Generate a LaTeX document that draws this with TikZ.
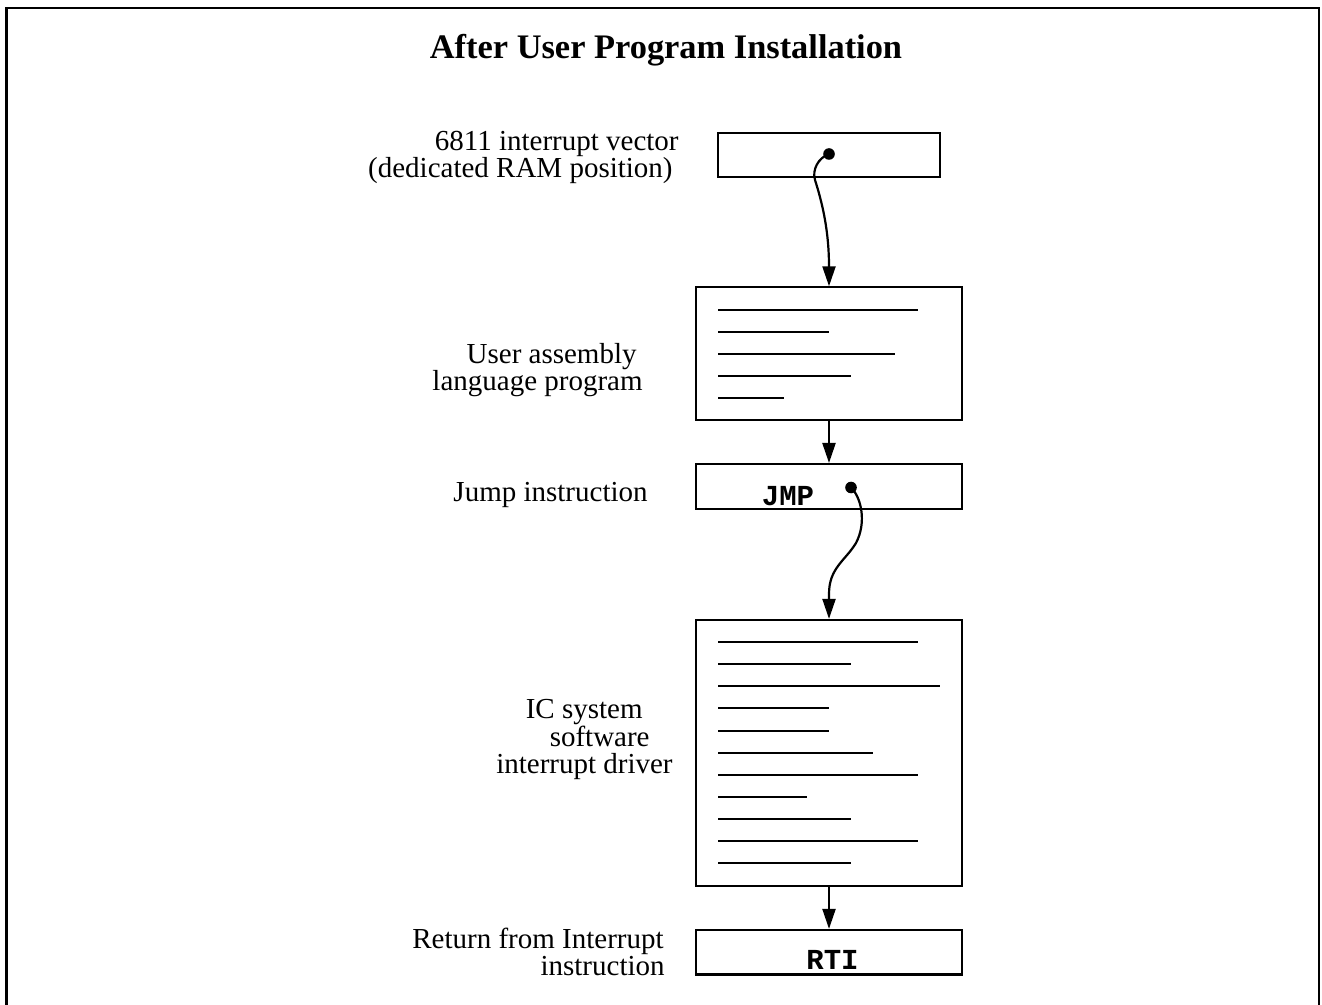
\documentclass[tikz,border=0pt]{standalone}
\usepackage{fontspec}
\setmainfont{Liberation Serif}
\setmonofont{Liberation Mono}
\usetikzlibrary{arrows.meta}
\begin{document}
\begin{tikzpicture}[x=0.5pt,y=-0.5pt,
  box/.style={draw,line width=1.1pt,inner sep=0pt,minimum width=133pt},
  lbl/.style={anchor=base east,inner sep=0pt,font=\fontsize{14.5pt}{17pt}\selectfont},
  code/.style={anchor=base,inner sep=0pt,font=\fontsize{14.5pt}{17pt}\selectfont\ttfamily\bfseries},
  arr/.style={line width=1.1pt,-{Triangle[length=10pt,width=6.5pt]}},
  txtline/.style={line width=1pt},
  dotpt/.style={fill=black}]
\useasboundingbox (0,0) rectangle (1322,1005);
% frame (open at bottom)
\draw[line width=1.35pt] (6.5,1010) -- (6.5,8) -- (1319,8) -- (1319,1010);
% title
\node[anchor=base,inner sep=0pt,font=\fontsize{17.2pt}{20pt}\selectfont\bfseries] (title) at (666,59) {After User Program Installation};
% boxes
\node[box,minimum width=111pt,minimum height=22pt] (b1) at (829,154.7) {};
\node[box,minimum height=66.3pt] (b2) at (829,353.7) {};
\node[box,minimum height=22.6pt] (b3) at (829,486.7) {};
\node[box,minimum height=132.8pt] (b4) at (829,752.8) {};
\node[box,minimum height=22.2pt] (b5) at (829,952.2) {};
% labels
\node[lbl] (l1a) at (679,151) {6811 interrupt vector};
\node[lbl] (l1b) at (673,177.5) {(dedicated RAM position)};
\node[lbl] (l2a) at (637,364) {User assembly};
\node[lbl] (l2b) at (643,391) {language program};
\node[lbl] (l3) at (648,501) {Jump instruction};
\node[lbl] (l4a) at (643,718) {IC system};
\node[lbl] (l4b) at (650,746) {software};
\node[lbl] (l4c) at (673,773) {interrupt driver};
\node[lbl] (l5a) at (664,948.5) {Return from Interrupt};
\node[lbl] (l5b) at (665,975.5) {instruction};
% code text
\node[code] (jmp) at (788,505) {JMP};
\node[code] (rti) at (832.5,969) {RTI};
% program lines in b2
\foreach \y/\e in {310/917.7,332/829,354/895.3,376/851,398/784.3}
  \draw[txtline] (718.3,\y) -- (\e,\y);
% program lines in b4
\foreach \y/\e in {642/917.7,664/851,686/939.7,708/829,730.5/829,752.5/873.3,774.5/917.7,797/807,819/851,841/917.7,863/851}
  \draw[txtline] (718.3,\y) -- (\e,\y);
% dots
\coordinate (d1) at (829,154);
\coordinate (d2) at (851,487.5);
\fill[dotpt] (d1) circle[radius=2.9pt];
\fill[dotpt] (d2) circle[radius=2.9pt];
% connectors
\draw[arr] (d1) .. controls (818,158) and (812,170) .. (815,180) .. controls (822,202) and (829,230) .. (b2.north);
\draw[arr] (b2.south) -- (b3.north);
\draw[arr] (d2) .. controls (861,497) and (867,522) .. (856,543) .. controls (845,561) and (829,568) .. (829,594) -- (b4.north);
\draw[arr] (b4.south) -- (b5.north);
\end{tikzpicture}
\end{document}
